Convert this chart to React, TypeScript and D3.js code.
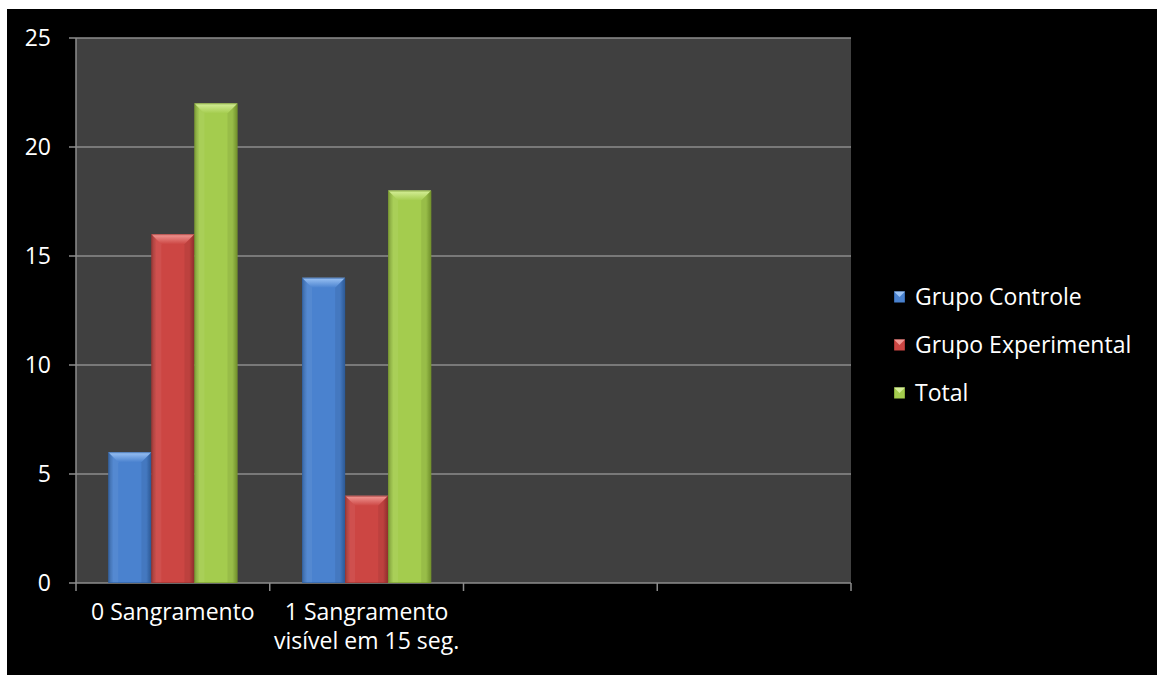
import React from "react";
import * as d3 from "d3";

const categories = ["0 Sangramento", "1 Sangramento\nvisível em 15 seg.", "", ""];
const seriesNames = ["Grupo Controle", "Grupo Experimental", "Total"];
const grupoControle = [6, 14, null, null];
const grupoExperimental = [16, 4, null, null];
const total = [22, 18, null, null];
const yTicks = [0, 5, 10, 15, 20, 25];

const seriesValues = [grupoControle, grupoExperimental, total];
const palette = [
  { base: "#4a82cf", light: "#9cc3f4", dark: "#2f5f9f" },
  { base: "#cc4643", light: "#f29a96", dark: "#973230" },
  { base: "#a4cc4e", light: "#d6ef9a", dark: "#78992f" },
];

const W = 1157;
const H = 675;
const plot = { left: 76, top: 38, right: 851, bottom: 583 };
const FONT = "'Open Sans', 'DejaVu Sans', sans-serif";
const FS = 23;

export default function App() {
  const x0 = d3
    .scaleBand<number>()
    .domain(categories.map((_, i) => i))
    .range([plot.left, plot.right])
    .paddingInner(0)
    .paddingOuter(0);
  const bw = x0.bandwidth();
  // gap width 150% of a bar: 3 bars + 1.5 bars of gap per category
  const barW = bw / 4.5;
  const groupStart = (i: number) => (x0(i) as number) + barW * 0.75;
  const y = d3.scaleLinear().domain([0, 25]).range([plot.bottom, plot.top]);

  const bars: React.ReactNode[] = [];
  seriesValues.forEach((vals, s) => {
    vals.forEach((v, i) => {
      if (v == null) return;
      const bx = groupStart(i) + s * barW;
      const by = y(v);
      const bh = y(0) - by;
      const d = Math.min(10, bh / 2);
      bars.push(
        <g key={`${s}-${i}`}>
          <rect x={bx} y={by} width={barW} height={bh} fill={`url(#body${s})`} />
          <polygon
            points={`${bx},${by} ${bx + barW},${by} ${bx + barW - d},${by + d} ${bx + d},${by + d}`}
            fill={`url(#top${s})`}
          />
          <polygon
            points={`${bx},${by} ${bx + d},${by + d} ${bx + d},${by + bh} ${bx},${by + bh}`}
            fill="#ffffff"
            opacity={0.06}
          />
          <polygon
            points={`${bx + barW},${by} ${bx + barW - d},${by + d} ${bx + barW - d},${by + bh} ${bx + barW},${by + bh}`}
            fill="#000000"
            opacity={0.07}
          />
          <rect
            x={bx + 0.5}
            y={by + 0.5}
            width={barW - 1}
            height={bh - 1}
            fill="none"
            stroke={palette[s].dark}
            strokeOpacity={0.6}
            strokeWidth={1}
          />
        </g>
      );
    });
  });

  const legendY = [297, 345, 393];

  return (
    <svg
      width={W}
      height={H}
      style={{ position: "absolute", left: 0, top: 0 }}
      fontFamily={FONT}
    >
      <defs>
        {palette.map((p, s) => (
          <React.Fragment key={s}>
            <linearGradient id={`body${s}`} x1="0" x2="1" y1="0" y2="0">
              <stop offset="0" stopColor={p.dark} />
              <stop offset="0.12" stopColor={p.base} />
              <stop offset="0.5" stopColor={p.base} />
              <stop offset="0.88" stopColor={p.base} />
              <stop offset="1" stopColor={p.dark} />
            </linearGradient>
            <linearGradient id={`top${s}`} x1="0" x2="0" y1="0" y2="1">
              <stop offset="0" stopColor={p.light} />
              <stop offset="1" stopColor={p.base} />
            </linearGradient>
          </React.Fragment>
        ))}
      </defs>
      <rect x={0} y={0} width={W} height={H} fill="#ffffff" />
      <rect x={7} y={9} width={W - 7} height={H - 9} fill="#000000" />
      <rect
        x={plot.left}
        y={plot.top}
        width={plot.right - plot.left}
        height={plot.bottom - plot.top}
        fill="#404040"
      />
      {yTicks.map((t) => (
        <g key={t}>
          <line
            x1={plot.left - 7}
            x2={plot.right}
            y1={y(t)}
            y2={y(t)}
            stroke="#8c8c8c"
            strokeWidth={1.5}
          />
          <text
            x={51}
            y={y(t)}
            dy="0.35em"
            textAnchor="end"
            fill="#ffffff"
            fontSize={FS}
          >
            {t}
          </text>
        </g>
      ))}
      <line
        x1={plot.left}
        x2={plot.left}
        y1={plot.top}
        y2={plot.bottom}
        stroke="#8c8c8c"
        strokeWidth={1.5}
      />
      {d3.range(categories.length + 1).map((i) => {
        const tx = plot.left + i * bw;
        return (
          <line
            key={i}
            x1={tx}
            x2={tx}
            y1={plot.bottom}
            y2={plot.bottom + 8}
            stroke="#8c8c8c"
            strokeWidth={1.5}
          />
        );
      })}
      {bars}
      {categories.map((c, i) =>
        c.split("\n").map((line, j) => (
          <text
            key={`${i}-${j}`}
            x={(x0(i) as number) + bw / 2}
            y={612 + j * 29}
            dy="0.35em"
            textAnchor="middle"
            fill="#ffffff"
            fontSize={FS}
          >
            {line}
          </text>
        ))
      )}
      {seriesNames.map((n, s) => (
        <g key={n}>
          <rect x={894} y={legendY[s] - 5.5} width={11} height={11} fill={`url(#body${s})`} />
          <polygon
            points={`${894},${legendY[s] - 5.5} ${905},${legendY[s] - 5.5} ${899.5},${legendY[s]}`}
            fill={palette[s].light}
          />
          <text x={915} y={legendY[s]} dy="0.35em" fill="#ffffff" fontSize={FS}>
            {n}
          </text>
        </g>
      ))}
    </svg>
  );
}
